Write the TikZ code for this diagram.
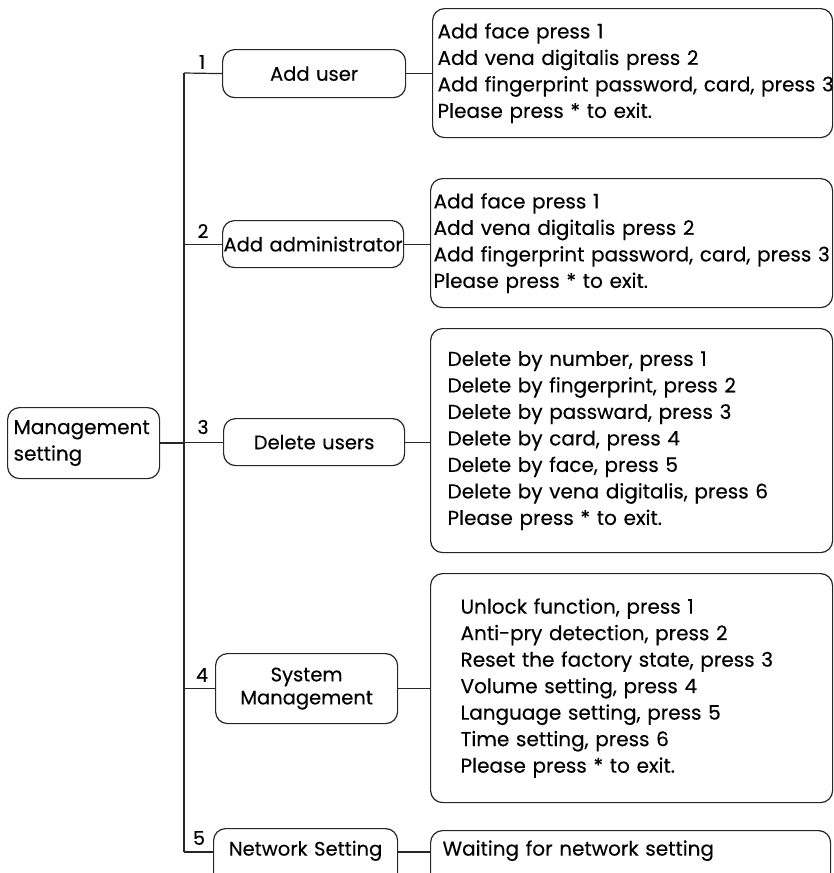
\documentclass[tikz,border=0pt]{standalone}
\usepackage{fontspec}
\setmainfont{Poppins}[FakeBold=0.3]
\begin{document}
\begin{tikzpicture}[x=1pt,y=-1pt,
  ln/.style={line width=1.2pt, draw=black!85},
  menubox/.style={draw=black!85, line width=1.2pt, rounded corners=12pt, anchor=north west,
    inner xsep=0pt, inner ysep=0pt, align=center, font=\fontsize{19.5}{23}\selectfont},
  infobox/.style={draw=black!85, line width=1.2pt, rounded corners=12pt, anchor=north west,
    inner ysep=0pt, align=left, font=\fontsize{20}{26.5}\selectfont},
  num/.style={inner sep=0pt, font=\fontsize{19}{20}\selectfont}]
\useasboundingbox (0,0) rectangle (834,873);

% root
\node[infobox, inner xsep=6pt, text width=140pt, minimum height=71pt] (root) at (7,407)
  {Management\\setting};

% trunk coordinates
\coordinate (t0) at (184,443);
\coordinate (t1) at (184,73);
\coordinate (t5) at (184,852);

% menu boxes
\node[menubox, text width=183pt, minimum height=48pt] (m1) at (222,49) {Add user};
\node[menubox, text width=181pt, minimum height=47pt] (m2) at (222,220) {Add administrator};
\node[menubox, text width=181pt, minimum height=47pt] (m3) at (223,418) {Delete users};
\node[menubox, text width=182pt, minimum height=70pt] (m4) at (215,653) {System\\Management};
\node[menubox, text width=184pt, text height=27pt, text depth=30pt] (m5) at (213,828) {Network Setting};

% info boxes
\node[infobox, inner xsep=5pt, text width=390pt, minimum height=129pt] (b1) at (432,8)
  {Add face press 1\\Add vena digitalis press 2\\\mbox{Add fingerprint password, card, press 3}\\Please press * to exit.};
\node[infobox, inner xsep=3pt, text width=396pt, minimum height=129pt] (b2) at (430,178)
  {Add face press 1\\Add vena digitalis press 2\\\mbox{Add fingerprint password, card, press 3}\\Please press * to exit.};
\node[infobox, inner xsep=17pt, text width=368pt, minimum height=224pt] (b3) at (430,328)
  {Delete by number, press 1\\Delete by fingerprint, press 2\\Delete by passward, press 3\\Delete by card, press 4\\Delete by face, press 5\\Delete by vena digitalis, press 6\\Please press * to exit.};
\node[infobox, inner xsep=30pt, text width=342pt, minimum height=229pt] (b4) at (430,573)
  {Unlock function, press 1\\Anti-pry detection, press 2\\Reset the factory state, press 3\\Volume setting, press 4\\Language setting, press 5\\Time setting, press 6\\Please press * to exit.};
\node[infobox, inner xsep=12pt, text width=376pt, text height=25pt, text depth=30pt] (b5) at (430,830)
  {Waiting for network setting};

% connectors
\draw[ln] (root.east |- t0) -- (t0);
\draw[ln] (t1) -- (t5);
\draw[ln] (t1) -- (m1.west);
\draw[ln] (t1 |- m2.west) -- (m2.west);
\draw[ln] (t1 |- m3.west) -- (m3.west);
\draw[ln] (t1 |- m4.west) -- (m4.west);
\draw[ln] (t5) -- (t5 -| m5.west);
\draw[ln] (m1.east) -- (m1.east -| b1.west);
\draw[ln] (m2.east) -- (m2.east -| b2.west);
\draw[ln] (m3.east) -- (m3.east -| b3.west);
\draw[ln] (m4.east) -- (m4.east -| b4.west);
\draw[ln] (t5 -| m5.east) -- (t5 -| b5.west);

% numbers
\node[num] (n1) at (202,62) {1};
\node[num] (n2) at (203,231) {2};
\node[num] (n3) at (203,427) {3};
\node[num] (n4) at (202,675) {4};
\node[num] (n5) at (199,838) {5};
\end{tikzpicture}
\end{document}
